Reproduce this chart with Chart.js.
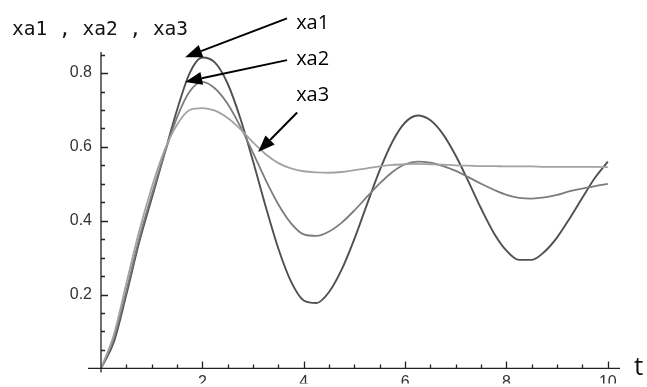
<!DOCTYPE html>
<html>
<head>
<meta charset="utf-8">
<script src="https://cdn.jsdelivr.net/npm/chart.js@4/dist/chart.umd.min.js"></script>
<style>
    html, body { margin: 0; padding: 0; background: #fff; }
    #wrap { width: 647px; height: 387px; }
</style>
</head>
<body>
<div id="wrap"><canvas id="responseChart" width="647" height="387"></canvas></div>
<script>
// Time samples (t) and the three step responses
const tValues = [0, 0.25, 0.5, 0.75, 1, 1.25, 1.5, 1.75, 2, 2.25, 2.5, 2.75, 3, 3.25, 3.5, 3.75, 4,
    4.25, 4.5, 4.75, 5, 5.25, 5.5, 5.75, 6, 6.25, 6.5, 6.75, 7, 7.25, 7.5, 7.75, 8,
    8.25, 8.5, 8.75, 9, 9.25, 9.5, 9.75, 10];

const xa1 = [0, 0.07, 0.20, 0.34, 0.46, 0.58, 0.70, 0.80, 0.842,
    0.828, 0.771, 0.677, 0.561, 0.438, 0.324, 0.235, 0.184,
    0.177, 0.207, 0.268, 0.351, 0.445, 0.537, 0.614, 0.666,
    0.685, 0.672, 0.634, 0.576, 0.506, 0.433, 0.367, 0.319,
    0.294, 0.294, 0.316, 0.355, 0.407, 0.463, 0.517, 0.560];

const xa2 = [0, 0.08, 0.21, 0.35, 0.47, 0.58, 0.68, 0.75, 0.776,
    0.758, 0.716, 0.655, 0.584, 0.510, 0.444, 0.393, 0.363,
    0.359, 0.371, 0.395, 0.428, 0.465, 0.501, 0.532, 0.553,
    0.560, 0.557, 0.548, 0.535, 0.518, 0.500, 0.484, 0.470,
    0.462, 0.460, 0.463, 0.470, 0.480, 0.487, 0.494, 0.500];

const xa3 = [0, 0.09, 0.23, 0.37, 0.49, 0.59, 0.66, 0.70, 0.705,
    0.698, 0.678, 0.648, 0.612, 0.580, 0.556, 0.542, 0.534,
    0.531, 0.530, 0.532, 0.537, 0.542, 0.547, 0.551, 0.553,
    0.554, 0.553, 0.552, 0.550, 0.549, 0.548, 0.548, 0.547,
    0.547, 0.547, 0.546, 0.546, 0.546, 0.546, 0.546, 0.545];

// Callout labels: text, label anchor and arrow (start -> tip), in data units
const callouts = [
    { text: 'xa1', label: [3.85, 0.918], from: [3.67, 0.948], to: [1.66, 0.843] },
    { text: 'xa2', label: [3.85, 0.822], from: [3.67, 0.835], to: [1.66, 0.776] },
    { text: 'xa3', label: [3.85, 0.724], from: [3.87, 0.693], to: [3.10, 0.586] }
];

const toPoints = ys => ys.map((y, i) => ({ x: tValues[i], y: y }));

function isMultiple(v, step) {
    return Math.abs(v / step - Math.round(v / step)) < 1e-6;
}

function drawArrow(ctx, x0, y0, x1, y1) {
    const ang = Math.atan2(y1 - y0, x1 - x0);
    const headLen = 17, headHalf = 6.5;
    const bx = x1 - headLen * Math.cos(ang);
    const by = y1 - headLen * Math.sin(ang);
    ctx.beginPath();
    ctx.moveTo(x0, y0);
    ctx.lineTo(bx, by);
    ctx.stroke();
    ctx.beginPath();
    ctx.moveTo(x1, y1);
    ctx.lineTo(bx + headHalf * Math.sin(ang), by - headHalf * Math.cos(ang));
    ctx.lineTo(bx - headHalf * Math.sin(ang), by + headHalf * Math.cos(ang));
    ctx.closePath();
    ctx.fill();
}

// Mathematica-style axes: inward ticks, axis title, callouts
const plotDecor = {
    id: 'plotDecor',
    afterDraw(chart) {
        const ctx = chart.ctx;
        const xs = chart.scales.x;
        const ys = chart.scales.y;
        const a = chart.chartArea;
        ctx.save();
        ctx.strokeStyle = '#222';
        ctx.lineWidth = 1.3;

        // axis lines
        ctx.beginPath();
        ctx.moveTo(a.left - 13, a.bottom);
        ctx.lineTo(a.right, a.bottom);
        ctx.moveTo(a.left, a.bottom + 4);
        ctx.lineTo(a.left, a.top);
        ctx.stroke();

        // ticks pointing into the plot
        ctx.beginPath();
        xs.ticks.forEach(t => {
            if (t.value <= 0) return;
            const px = Math.round(xs.getPixelForValue(t.value)) + 0.5;
            const len = isMultiple(t.value, 2) ? 7 : 4;
            ctx.moveTo(px, a.bottom);
            ctx.lineTo(px, a.bottom - len);
        });
        ys.ticks.forEach(t => {
            if (t.value <= 0) return;
            const py = Math.round(ys.getPixelForValue(t.value)) + 0.5;
            const len = isMultiple(t.value, 0.2) ? 7 : 4;
            ctx.moveTo(a.left, py);
            ctx.lineTo(a.left + len, py);
        });
        ctx.stroke();

        // axis title t
        ctx.fillStyle = '#111';
        ctx.font = '26px "Open Sans"';
        ctx.textBaseline = 'alphabetic';
        ctx.fillText('t', a.right + 14, a.bottom + 7);

        // plot label
        ctx.font = '19.5px "DejaVu Sans Mono"';
        ctx.fillText('xa1 , xa2 , xa3', 12, 35);

        // callouts
        ctx.strokeStyle = '#000';
        ctx.fillStyle = '#000';
        ctx.lineWidth = 2;
        ctx.font = '20px "Open Sans"';
        callouts.forEach(c => {
            ctx.fillText(c.text, xs.getPixelForValue(c.label[0]), ys.getPixelForValue(c.label[1]));
            drawArrow(ctx,
                xs.getPixelForValue(c.from[0]), ys.getPixelForValue(c.from[1]),
                xs.getPixelForValue(c.to[0]), ys.getPixelForValue(c.to[1]));
        });
        ctx.restore();
    }
};

const tickFont = { family: '"Liberation Sans", Arial, sans-serif', size: 16 };

new Chart(document.getElementById('responseChart').getContext('2d'), {
    type: 'line',
    data: {
        datasets: [
            { label: 'xa3', data: toPoints(xa3), borderColor: '#a3a3a3', borderWidth: 1.8 },
            { label: 'xa2', data: toPoints(xa2), borderColor: '#7c7c7c', borderWidth: 1.8 },
            { label: 'xa1', data: toPoints(xa1), borderColor: '#505050', borderWidth: 1.9 }
        ]
    },
    options: {
        responsive: false,
        animation: false,
        devicePixelRatio: 1,
        layout: { padding: { top: 52, right: 27, left: 0, bottom: 0 } },
        elements: {
            point: { radius: 0 },
            line: { cubicInterpolationMode: 'monotone', fill: false }
        },
        plugins: {
            legend: { display: false },
            tooltip: { enabled: false }
        },
        scales: {
            x: {
                type: 'linear',
                min: 0,
                max: 10.24,
                grid: { display: false, drawTicks: false },
                border: { display: false },
                afterFit: scale => { scale.height = 15; },
                ticks: {
                    stepSize: 0.5,
                    includeBounds: false,
                    autoSkip: false,
                    maxRotation: 0,
                    padding: 5,
                    color: '#333',
                    font: tickFont,
                    callback: v => (v > 0 && isMultiple(v, 2)) ? String(Math.round(v)) : ''
                }
            },
            y: {
                type: 'linear',
                min: 0,
                max: 0.857,
                grid: { display: false, drawTicks: false },
                border: { display: false },
                afterFit: scale => { scale.width = 101; },
                ticks: {
                    stepSize: 0.05,
                    includeBounds: false,
                    autoSkip: false,
                    padding: 9,
                    color: '#333',
                    font: tickFont,
                    callback: v => (v > 0 && isMultiple(v, 0.2)) ? v.toFixed(1) : ''
                }
            }
        }
    },
    plugins: [plotDecor]
});
</script>
</body>
</html>
